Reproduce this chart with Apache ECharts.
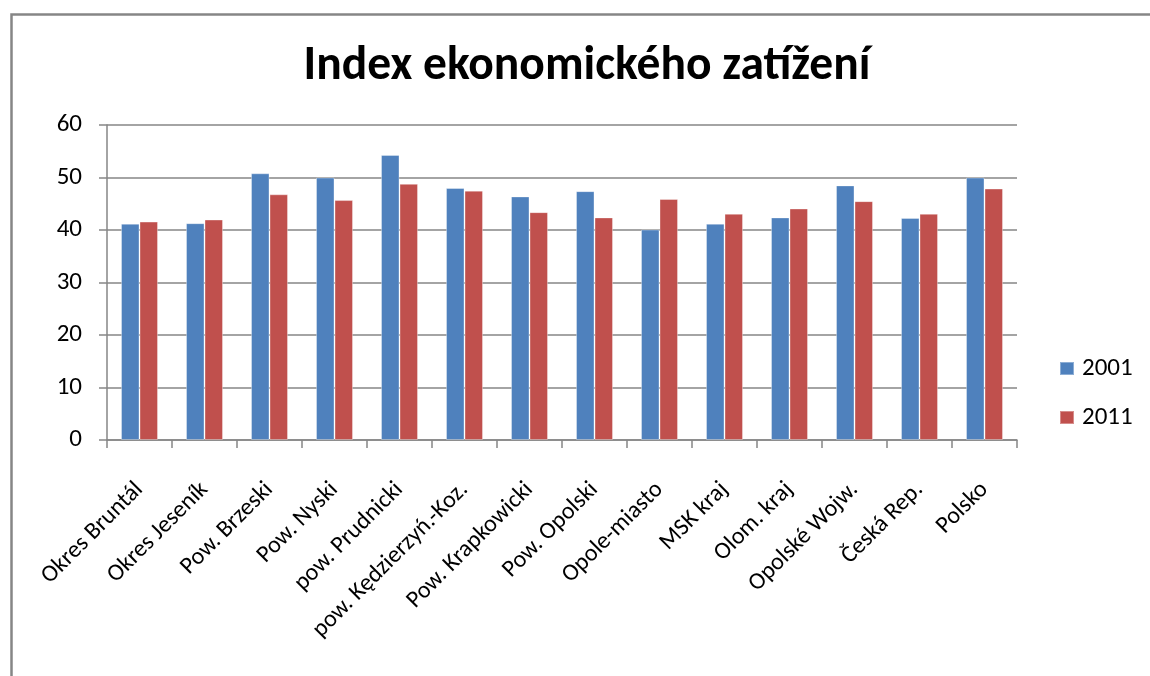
<!DOCTYPE html>
<html>
<head>
<meta charset="utf-8">
<script src="https://cdn.jsdelivr.net/npm/echarts@6/dist/echarts.min.js"></script>
<style>html,body{margin:0;padding:0;background:#fff;}#c{width:1150px;height:676px;}</style>
</head>
<body>
<div id="c"></div>
<script>
const categories = ['Okres Bruntál','Okres Jeseník','Pow. Brzeski','Pow. Nyski','pow. Prudnicki','pow. Kędzierzyń.-Koz.','Pow. Krapkowicki','Pow. Opolski','Opole-miasto','MSK kraj','Olom. kraj','Opolské Wojw.','Česká Rep.','Polsko'];
const values2001 = [41.2, 41.3, 50.8, 50.0, 54.3, 48.0, 46.4, 47.4, 40.1, 41.2, 42.4, 48.5, 42.3, 50.0];
const values2011 = [41.6, 42.0, 46.8, 45.7, 48.8, 47.5, 43.4, 42.4, 45.9, 43.1, 44.1, 45.5, 43.1, 47.9];
const yTicks = [0, 10, 20, 30, 40, 50, 60];
const seriesNames = ['2001', '2011'];

const FONT = 'Carlito, Lato, "Open Sans", sans-serif';
const chart = echarts.init(document.getElementById('c'), null, {renderer: 'canvas'});
chart.setOption({
  animation: false,
  backgroundColor: '#fff',
  graphic: [{
    type: 'rect', left: 9, top: 12, shape: {width: 1300, height: 800},
    style: {fill: 'none', stroke: '#868686', lineWidth: 2.5}, silent: true
  }],
  title: {
    text: 'Index ekonomického zatížení',
    left: 582, top: 38, textAlign: 'center',
    textStyle: {fontFamily: FONT, fontWeight: 'bold', fontSize: 47.5, color: '#000'}
  },
  legend: {
    orient: 'vertical', left: 1059, top: 356, padding: 0,
    itemWidth: 14, itemHeight: 13, itemGap: 24,
    icon: 'rect',
    data: seriesNames,
    textStyle: {fontFamily: FONT, fontSize: 25, color: '#000', padding: [0,0,0,3]}
  },
  grid: {left: 107, right: 133, top: 125, bottom: 236, containLabel: false},
  xAxis: {
    type: 'category', data: categories,
    axisLine: {lineStyle: {color: '#868686', width: 1.5}},
    axisTick: {show: true, length: 8, lineStyle: {color: '#868686', width: 1.5}},
    axisLabel: {rotate: 45, fontFamily: FONT, fontSize: 24, color: '#000', margin: 46, interval: 0}
  },
  yAxis: {
    type: 'value', min: 0, max: 60, interval: 10,
    axisLine: {show: true, lineStyle: {color: '#868686', width: 1.5}},
    axisTick: {show: true, length: 8, lineStyle: {color: '#868686', width: 1.5}},
    splitLine: {lineStyle: {color: '#868686', width: 1.5}},
    axisLabel: {fontFamily: FONT, fontSize: 25, color: '#000', margin: 25,
      formatter: v => yTicks.includes(v) ? String(v) : ''}
  },
  series: [
    {name: seriesNames[0], type: 'bar', data: values2001, barWidth: 18.5, barGap: '0%',
     itemStyle: {color: '#4F81BD', borderColor: 'rgba(255,255,255,0.35)', borderWidth: 1}},
    {name: seriesNames[1], type: 'bar', data: values2011, barWidth: 18.5, barGap: '0%',
     itemStyle: {color: '#C0504D', borderColor: 'rgba(255,255,255,0.35)', borderWidth: 1}}
  ]
});
</script>
</body>
</html>
